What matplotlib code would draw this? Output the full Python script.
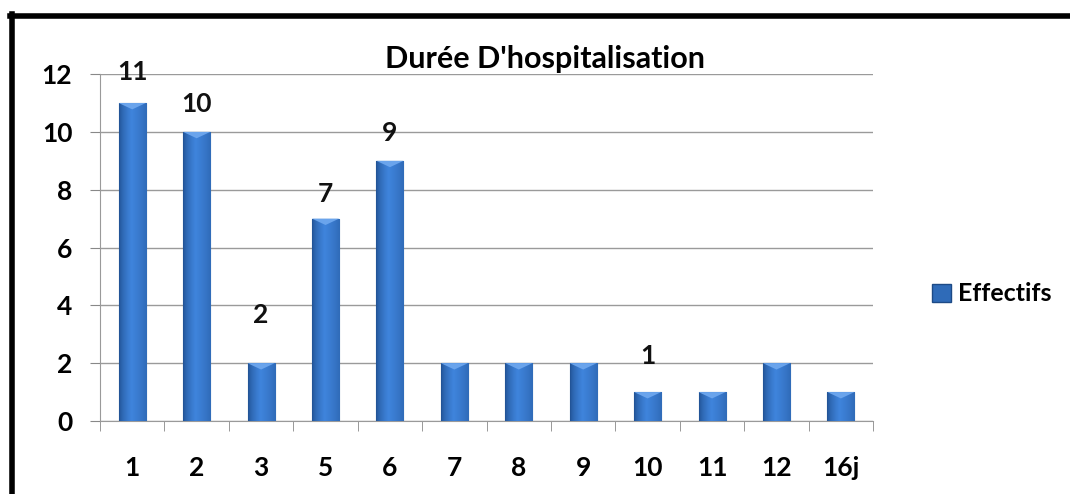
import numpy as np
import matplotlib.pyplot as plt
from matplotlib.lines import Line2D
from matplotlib.patches import Rectangle
from matplotlib.colors import LinearSegmentedColormap

categories = ["1", "2", "3", "5", "6", "7", "8", "9", "10", "11", "12", "16j"]
effectifs = [11, 10, 2, 7, 9, 2, 2, 2, 1, 1, 2, 1]
# data labels shown in the original (index -> offset in points above bar)
shown_labels = {0: 22, 1: 20, 2: 35, 3: 18, 4: 20, 8: 26}

plt.rcParams['font.family'] = ['Lato', 'DejaVu Sans']

fig = plt.figure(figsize=(10.7, 4.94), dpi=100)
ax = fig.add_axes([0.0935, 0.1478, 0.7225, 0.7022])

x = np.arange(len(categories))
width = 0.42

# gradient for bars: dark edges, lighter centre
grad = np.concatenate([np.linspace(0, 1, 45), np.linspace(1, 0.35, 55)]) ** 0.6
grad = grad[np.newaxis, :]
cmap = LinearSegmentedColormap.from_list("bar", ["#1f4f8f", "#3f84dc"])

bars = ax.bar(x, effectifs, width=width, color="#2f6bb8", edgecolor="#1d4a86", linewidth=0.8, zorder=2)
for b in bars:
    bx, by = b.get_x(), b.get_y()
    bw, bh = b.get_width(), b.get_height()
    im = ax.imshow(grad, cmap=cmap, aspect='auto', extent=[bx, bx + bw, by, by + bh], zorder=3)
    im.set_clip_path(b)
    # lighter bevel on top
    ax.fill([bx, bx + bw, bx + bw / 2], [by + bh, by + bh, by + bh - 0.22],
            color="#6aa4ec", zorder=4, lw=0)

for i, off in shown_labels.items():
    ax.annotate(str(effectifs[i]), (x[i], effectifs[i]), xytext=(0, off), textcoords='offset points',
                ha='center', va='center', fontsize=19, fontweight='bold', color='#111111')

ax.set_xlim(-0.5, len(categories) - 0.5)
ax.set_ylim(0, 12)
ax.set_yticks(range(0, 13, 2))
ax.set_xticks(x)
ax.set_xticklabels(categories)
ax.set_xticks(np.arange(-0.5, len(categories), 1), minor=True)
ax.tick_params(axis='x', which='major', length=0, pad=25, labelsize=19)
ax.tick_params(axis='x', which='minor', length=7, color='#888888', direction='out')
ax.tick_params(axis='y', length=7, color='#888888', pad=13, labelsize=19)
for lab in ax.get_xticklabels() + ax.get_yticklabels():
    lab.set_fontweight('bold')

ax.grid(axis='y', color='#9a9a9a', linewidth=1, zorder=0)
ax.set_axisbelow(True)
for s in ['top', 'right']:
    ax.spines[s].set_visible(False)
for s in ['left', 'bottom']:
    ax.spines[s].set_color('#9a9a9a')

fig.text(0.509, 0.88, "Durée D'hospitalisation", ha='center', va='center', fontsize=22, fontweight='bold')

handle = Rectangle((0, 0), 1, 1, facecolor="#2f6bb8", edgecolor="#1d4a86")
fig.legend([handle], ["Effectifs"], loc='center left', bbox_to_anchor=(0.871, 0.405), frameon=False,
           prop={'size': 18, 'weight': 'bold'}, handlelength=0.75, handleheight=0.75, handletextpad=0.3,
           borderaxespad=0, borderpad=0)

# black frame (top and left edges visible in the original)
fig.add_artist(Line2D([0.009, 1.0], [0.968, 0.968], transform=fig.transFigure, color='black', lw=4))
fig.add_artist(Line2D([0.0115, 0.0115], [0.0, 0.972], transform=fig.transFigure, color='black', lw=4))

fig.savefig("out.png", dpi=100)
